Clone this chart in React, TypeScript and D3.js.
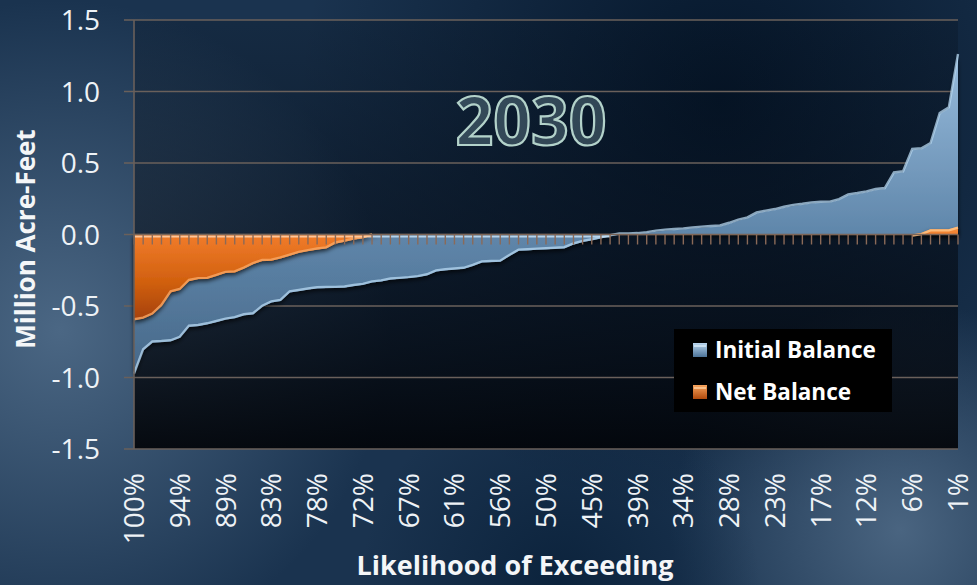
import React from "react";
import * as d3 from "d3";

// ---- data (Million Acre-Feet), sorted by likelihood of exceeding, 91 points ----
const initialBalance: number[] = [
  -0.98, -0.81, -0.755, -0.752, -0.747, -0.722, -0.645, -0.64, -0.628, -0.612,
  -0.595, -0.585, -0.565, -0.558, -0.505, -0.475, -0.465, -0.405, -0.395, -0.385,
  -0.376, -0.374, -0.373, -0.371, -0.36, -0.352, -0.335, -0.328, -0.315, -0.31,
  -0.305, -0.298, -0.285, -0.258, -0.25, -0.245, -0.24, -0.22, -0.195, -0.192,
  -0.19, -0.15, -0.113, -0.11, -0.106, -0.103, -0.1, -0.096, -0.07, -0.052,
  -0.04, -0.026, -0.012, 0.0, 0.001, 0.003, 0.01, 0.02, 0.027, 0.031,
  0.036, 0.043, 0.048, 0.052, 0.056, 0.075, 0.097, 0.113, 0.148, 0.16,
  0.171, 0.187, 0.2, 0.208, 0.218, 0.222, 0.223, 0.241, 0.274, 0.283,
  0.295, 0.311, 0.318, 0.428, 0.435, 0.591, 0.596, 0.633, 0.843, 0.883,
  1.255,
];

const netBalance: number[] = [
  -0.6, -0.588, -0.56, -0.5, -0.405, -0.388, -0.325, -0.312, -0.31, -0.29,
  -0.268, -0.265, -0.238, -0.207, -0.185, -0.183, -0.167, -0.148, -0.128, -0.116,
  -0.105, -0.097, -0.063, -0.05, -0.035, -0.027, -0.005, 0, 0, 0,
  0, 0, 0, 0, 0, 0, 0, 0, 0, 0,
  0, 0, 0, 0, 0, 0, 0, 0, 0, 0,
  0, 0, 0, 0, 0, 0, 0, 0, 0, 0,
  0, 0, 0, 0, 0, 0, 0, 0, 0, 0,
  0, 0, 0, 0, 0, 0, 0, 0, 0, 0,
  0, 0, 0, 0, 0, 0, 0.01, 0.036, 0.036, 0.036,
  0.055,
];

const likelihoodLabels: string[] = [
  "100%", "94%", "89%", "83%", "78%", "72%", "67%", "61%", "56%", "50%",
  "45%", "39%", "34%", "28%", "23%", "17%", "12%", "6%", "1%",
];
const labelEvery = 5;
const yTicks: number[] = [-1.5, -1.0, -0.5, 0.0, 0.5, 1.0, 1.5];
const seriesNames: string[] = ["Initial Balance", "Net Balance"];
const chartTitle = "2030";

const W = 977;
const H = 585;
const FONT = "'Open Sans', 'DejaVu Sans', sans-serif";

export default function App() {
  const left = 134;
  const right = 958;
  const top = 20;
  const bottom = 449;

  const x = d3.scaleLinear().domain([0, initialBalance.length - 1]).range([left, right]);
  const y = d3.scaleLinear().domain([-1.5, 1.5]).range([bottom, top]);
  const y0 = y(0);

  const area = d3
    .area<number>()
    .x((_, i) => x(i))
    .y0(y0)
    .y1((d) => y(d));
  const line = d3
    .line<number>()
    .x((_, i) => x(i))
    .y((d) => y(d));

  const idx = d3.range(initialBalance.length);

  return (
    <svg
      width={W}
      height={H}
      viewBox={`0 0 ${W} ${H}`}
      style={{ position: "absolute", left: 0, top: 0, display: "block" }}
    >
      <defs>
        <radialGradient id="bgL" cx="60" cy="330" r="330" gradientUnits="userSpaceOnUse">
          <stop offset="0" stopColor="#4b6784" stopOpacity="1" />
          <stop offset="1" stopColor="#4b6784" stopOpacity="0" />
        </radialGradient>
        <radialGradient id="bgR" cx="900" cy="530" r="230" gradientUnits="userSpaceOnUse">
          <stop offset="0" stopColor="#4f6a86" stopOpacity="0.9" />
          <stop offset="1" stopColor="#4f6a86" stopOpacity="0" />
        </radialGradient>
        <radialGradient id="bgD" cx="720" cy="100" r="420" gradientUnits="userSpaceOnUse">
          <stop offset="0" stopColor="#05162a" stopOpacity="1" />
          <stop offset="1" stopColor="#05162a" stopOpacity="0" />
        </radialGradient>
        <radialGradient id="bgB" cx="560" cy="585" r="200" gradientUnits="userSpaceOnUse">
          <stop offset="0" stopColor="#0a213a" stopOpacity="0.9" />
          <stop offset="1" stopColor="#0a213a" stopOpacity="0" />
        </radialGradient>
        <linearGradient id="plotBg" x1="0" y1={top} x2="0" y2={bottom} gradientUnits="userSpaceOnUse">
          <stop offset="0" stopColor="#06101c" stopOpacity="0.25" />
          <stop offset="0.5" stopColor="#050b14" stopOpacity="0.55" />
          <stop offset="1" stopColor="#020408" stopOpacity="0.92" />
        </linearGradient>
        <linearGradient id="blueFill" x1="0" y1={top} x2="0" y2={bottom} gradientUnits="userSpaceOnUse">
          <stop offset="0" stopColor="#a3c6e6" />
          <stop offset="0.5" stopColor="#5f86aa" />
          <stop offset="1" stopColor="#3a5877" />
        </linearGradient>
        <linearGradient id="orangeFill" x1="0" y1={y(0.1)} x2="0" y2={y(-0.62)} gradientUnits="userSpaceOnUse">
          <stop offset="0" stopColor="#f7a255" />
          <stop offset="0.15" stopColor="#f07b2a" />
          <stop offset="0.6" stopColor="#d1600f" />
          <stop offset="1" stopColor="#a13e06" />
        </linearGradient>
        <linearGradient id="swBlue" x1="0" y1="0" x2="0" y2="1">
          <stop offset="0" stopColor="#b9d6ee" />
          <stop offset="1" stopColor="#4c7398" />
        </linearGradient>
        <linearGradient id="swOrange" x1="0" y1="0" x2="0" y2="1">
          <stop offset="0" stopColor="#f7a35c" />
          <stop offset="1" stopColor="#b04a0c" />
        </linearGradient>
        <filter id="shadow" x="-5%" y="-5%" width="110%" height="120%">
          <feDropShadow dx="0" dy="2.5" stdDeviation="2" floodColor="#000" floodOpacity="0.7" />
        </filter>
        <filter id="glow" x="-10%" y="-20%" width="120%" height="140%">
          <feGaussianBlur stdDeviation="1.2" />
        </filter>
      </defs>

      {/* slide background */}
      <rect x={0} y={0} width={W} height={H} fill="#1a334f" />
      <rect x={0} y={0} width={W} height={H} fill="url(#bgD)" />
      <rect x={0} y={0} width={W} height={H} fill="url(#bgL)" />
      <rect x={0} y={0} width={W} height={H} fill="url(#bgR)" />
      <rect x={0} y={0} width={W} height={H} fill="url(#bgB)" />

      {/* plot area */}
      <rect x={left} y={top} width={right - left} height={bottom - top} fill="url(#plotBg)" />

      {/* gridlines */}
      {yTicks.map((t) => (
        <line
          key={"g" + t}
          x1={left - 10}
          x2={right}
          y1={y(t)}
          y2={y(t)}
          stroke="#6a605b"
          strokeWidth={1.6}
        />
      ))}

      {/* chart title */}
      <text
        x={531}
        y={145}
        textAnchor="middle"
        fontFamily={FONT}
        fontWeight={700}
        fontSize={66}
        fill="#7d9ea6"
        fillOpacity={0.35}
        stroke="#b3d2ca"
        strokeWidth={2.2}
      >
        {chartTitle}
      </text>

      {/* Initial Balance */}
      <g filter="url(#shadow)">
        <path d={area(initialBalance) || ""} fill="url(#blueFill)" />
      </g>
      <path
        d={line(initialBalance) || ""}
        fill="none"
        stroke="#b7d8f2"
        strokeWidth={2.4}
        strokeOpacity={0.75}
        transform="translate(0,-1)"
      />

      {/* Net Balance */}
      <g filter="url(#shadow)">
        <path d={area(netBalance) || ""} fill="url(#orangeFill)" />
      </g>
      <path
        d={line(netBalance.slice(0, 27)) || ""}
        fill="none"
        stroke="#f9a865"
        strokeWidth={2.4}
        strokeOpacity={0.8}
        transform="translate(0,-1)"
      />
      <path
        d={
          d3
            .line<number>()
            .x((_, i) => x(i + 85))
            .y((d) => y(d))(netBalance.slice(85)) || ""
        }
        fill="none"
        stroke="#ffc080"
        strokeWidth={2.4}
        strokeOpacity={0.9}
        transform="translate(0,1)"
      />

      {/* zero bevel highlight */}
      <line x1={left} x2={x(26)} y1={y0 + 2} y2={y0 + 2} stroke="#ffd3ad" strokeWidth={2} strokeOpacity={0.85} />
      <line x1={x(26)} x2={x(52)} y1={y0 + 2} y2={y0 + 2} stroke="#c7e2f7" strokeWidth={2} strokeOpacity={0.85} />

      {/* category axis at zero */}
      <line x1={left} x2={right} y1={y0} y2={y0} stroke="#7a6558" strokeWidth={1.6} />
      {idx.map((i) => (
        <line key={"t" + i} x1={x(i)} x2={x(i)} y1={y0} y2={y0 + 10} stroke="#8b6a58" strokeWidth={1.4} />
      ))}

      {/* value axis */}
      <line x1={left} x2={left} y1={top} y2={bottom} stroke="#6a605b" strokeWidth={1.6} />
      {yTicks.map((t) => (
        <text
          key={"yl" + t}
          x={100}
          y={y(t) + 10}
          textAnchor="end"
          fontFamily={FONT}
          fontSize={28}
          fill="#eef2f6"
        >
          {t.toFixed(1)}
        </text>
      ))}

      {/* category labels */}
      {likelihoodLabels.map((lab, k) => {
        const cx = x(k * labelEvery) + 10;
        return (
          <text
            key={"xl" + k}
            transform={`translate(${cx},473) rotate(-90)`}
            textAnchor="end"
            fontFamily={FONT}
            fontSize={28}
            fill="#eef2f6"
          >
            {lab}
          </text>
        );
      })}

      {/* axis titles */}
      <text
        transform={`translate(35,239) rotate(-90)`}
        textAnchor="middle"
        fontFamily={FONT}
        fontWeight={700}
        fontSize={26}
        fill="#f4f6f8"
      >
        Million Acre-Feet
      </text>
      <text
        x={515}
        y={575}
        textAnchor="middle"
        fontFamily={FONT}
        fontWeight={700}
        fontSize={27}
        fill="#f4f6f8"
      >
        Likelihood of Exceeding
      </text>

      {/* legend */}
      <rect x={674} y={329} width={218} height={83} fill="#000" />
      {seriesNames.map((name, k) => {
        const ly = 343 + k * 42;
        return (
          <g key={name}>
            <rect x={693} y={ly} width={14} height={14} fill={k === 0 ? "url(#swBlue)" : "url(#swOrange)"} />
            <line x1={694} x2={706} y1={ly + 3} y2={ly + 3} stroke={k === 0 ? "#d8ecfa" : "#ffd0a0"} strokeWidth={1.5} />
            <text x={715} y={ly + 14.5} fontFamily={FONT} fontWeight={700} fontSize={22.5} fill="#ffffff">
              {name}
            </text>
          </g>
        );
      })}
    </svg>
  );
}
